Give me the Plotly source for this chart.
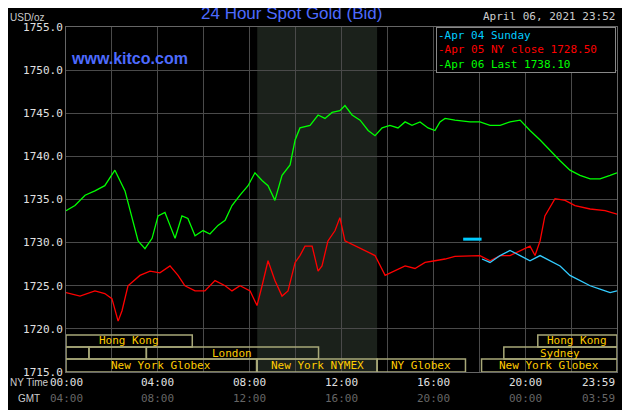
import plotly.graph_objects as go

g_hours = [0, 0.39, 0.83, 1.26, 1.69, 2.13, 2.57, 2.87, 3.14, 3.44,
           3.75, 4.01, 4.31, 4.53, 4.75, 5.05, 5.31, 5.62, 5.97, 6.27,
           6.62, 6.93, 7.23, 7.58, 7.93, 8.23, 8.54, 8.80, 9.10, 9.41,
           9.76, 9.98, 10.19, 10.63, 10.98, 11.28, 11.59, 11.93, 12.15, 12.46,
           12.81, 13.16, 13.46, 13.77, 14.11, 14.46, 14.77, 15.07, 15.42, 15.77,
           16.07, 16.29, 16.51, 16.94, 17.60, 18.03, 18.47, 18.91, 19.34, 19.78,
           20.21, 20.65, 21.08, 21.52, 21.95, 22.39, 22.83, 23.26, 23.70, 24]
g_price = [1733.7, 1734.3, 1735.5, 1736.0, 1736.6, 1738.4, 1736.0, 1733.1, 1730.2, 1729.3,
           1730.5, 1733.1, 1733.5, 1732.0, 1730.5, 1733.1, 1732.8, 1730.8, 1731.4, 1731.0,
           1732.0, 1732.6, 1734.3, 1735.5, 1736.6, 1738.1, 1737.2, 1736.6, 1734.9, 1737.8,
           1739.0, 1741.9, 1743.3, 1743.6, 1744.8, 1744.4, 1745.1, 1745.3, 1745.9, 1744.8,
           1744.2, 1743.0, 1742.4, 1743.3, 1743.6, 1743.3, 1744.0, 1743.6, 1744.0, 1743.3,
           1743.0, 1744.0, 1744.4, 1744.2, 1744.0, 1744.0, 1743.6, 1743.6, 1744.0, 1744.2,
           1743.0, 1741.9, 1740.7, 1739.5, 1738.4, 1737.8, 1737.4, 1737.4, 1737.8, 1738.1]

r_hours = [0, 0.61, 1.26, 1.69, 2.00, 2.27, 2.44, 2.70, 3.22, 3.66,
           4.09, 4.53, 4.88, 5.18, 5.62, 6.05, 6.49, 6.93, 7.23, 7.58,
           8.02, 8.32, 8.54, 8.80, 9.10, 9.41, 9.67, 9.98, 10.19, 10.41,
           10.72, 10.98, 11.15, 11.41, 11.72, 11.93, 12.15, 12.59, 13.02, 13.46,
           13.90, 14.33, 14.77, 15.20, 15.64, 16.07, 16.51, 16.94, 17.60, 18.03,
           18.47, 18.91, 19.34, 19.78, 20.21, 20.43, 20.65, 20.86, 21.30, 21.74,
           22.17, 22.83, 23.48, 24]
r_price = [1724.2, 1723.8, 1724.4, 1724.1, 1723.5, 1720.9, 1722.1, 1725.0, 1726.2, 1726.7,
           1726.5, 1727.3, 1726.2, 1725.0, 1724.4, 1724.4, 1725.6, 1725.0, 1724.4, 1725.0,
           1724.4, 1722.7, 1725.0, 1727.9, 1725.6, 1723.8, 1724.4, 1727.7, 1728.5, 1729.6,
           1729.6, 1726.7, 1727.3, 1730.2, 1731.4, 1732.9, 1730.2, 1729.6, 1729.1, 1728.5,
           1726.2, 1726.7, 1727.3, 1727.0, 1727.7, 1727.9, 1728.1, 1728.4, 1728.5, 1728.5,
           1727.9, 1728.5, 1728.5, 1729.1, 1729.6, 1728.5, 1730.2, 1733.1, 1735.1, 1734.9,
           1734.3, 1733.9, 1733.7, 1733.3]

b_hours = [18.12, 18.47, 18.91, 19.34, 19.78, 20.21, 20.65, 21.08, 21.52, 21.95,
           22.39, 22.83, 23.26, 23.70, 24]
b_price = [1728.1, 1727.7, 1728.5, 1729.1, 1728.5, 1727.9, 1728.5, 1727.9, 1727.3, 1726.2,
           1725.6, 1725.0, 1724.6, 1724.2, 1724.4]
stub_hours = [17.3, 18.1]
stub_price = [1730.4, 1730.4]

assert len(g_hours) == len(g_price) and len(r_hours) == len(r_price) and len(b_hours) == len(b_price)

y_ticks = [1715, 1720, 1725, 1730, 1735, 1740, 1745, 1750, 1755]
x_ticks = [0, 4, 8, 12, 16, 20, 24]
ny_labels = ["00:00", "04:00", "08:00", "12:00", "16:00", "20:00", "23:59"]
gmt_labels = ["04:00", "08:00", "12:00", "16:00", "20:00", "00:00", "03:59"]

sessions = [
    (0, 5.5, 0, "Hong Kong"), (20.55, 24, 0, "Hong Kong"),
    (0, 1, 1, ""), (1, 3.5, 1, ""), (3.5, 11, 1, "London"), (19.07, 24, 1, "Sydney"),
    (0, 8.3, 2, "New York Globex"), (8.33, 13.55, 2, "New York NYMEX"),
    (13.55, 17.4, 2, "NY Globex"), (18.1, 24, 2, "New York Globex"),
]
rows = [(1717.9, 1719.3), (1716.5, 1717.9), (1715.0, 1716.5)]

MONO = "DejaVu Sans Mono"
fig = go.Figure()
fig.add_trace(go.Scatter(x=r_hours, y=r_price, mode="lines", line=dict(color="#ff0000", width=1.3)))
fig.add_trace(go.Scatter(x=b_hours, y=b_price, mode="lines", line=dict(color="#33ccff", width=1.3)))
fig.add_trace(go.Scatter(x=stub_hours, y=stub_price, mode="lines", line=dict(color="#00ccff", width=3)))
fig.add_trace(go.Scatter(x=g_hours, y=g_price, mode="lines", line=dict(color="#00ff00", width=1.3)))

shapes = [dict(type="rect", xref="x", yref="y", x0=8.33, x1=13.55, y0=1715, y1=1755,
               fillcolor="#1b211b", line_width=0, layer="below")]
annotations = []
for s0, s1, row, lab in sessions:
    y0, y1 = rows[row]
    shapes.append(dict(type="rect", xref="x", yref="y", x0=s0, x1=s1, y0=y0, y1=y1,
                       fillcolor="rgba(0,0,0,0)", line=dict(color="#a8a878", width=1.5)))
    if lab:
        annotations.append(dict(x=(s0 + s1) / 2, y=(y0 + y1) / 2, xref="x", yref="y", text=lab,
                                showarrow=False, font=dict(family=MONO, size=11, color="#ffcc00")))

for xv, ny, gm in zip(x_ticks, ny_labels, gmt_labels):
    xa = "right" if xv == 24 else "center"
    annotations.append(dict(x=xv, y=0, xref="x", yref="paper", yshift=-2, text=ny, showarrow=False,
                            yanchor="top", xanchor=xa, font=dict(family=MONO, size=11, color="#e0e0e0")))
    annotations.append(dict(x=xv, y=0, xref="x", yref="paper", yshift=-18, text=gm, showarrow=False,
                            yanchor="top", xanchor=xa, font=dict(family=MONO, size=11, color="#666666")))

annotations += [
    dict(x=0, y=0, xref="paper", yref="paper", xshift=-58, yshift=-3, text="NY Time", showarrow=False,
         xanchor="left", yanchor="top", font=dict(family="Liberation Sans", size=10, color="#cccccc")),
    dict(x=0, y=0, xref="paper", yref="paper", xshift=-50, yshift=-19, text="GMT", showarrow=False,
         xanchor="left", yanchor="top", font=dict(family="Liberation Sans", size=10, color="#cccccc")),
    dict(x=0, y=1.0, xref="paper", yref="paper", xshift=-58, yshift=2, text="USD/oz", showarrow=False,
         xanchor="left", yanchor="bottom", font=dict(family="Liberation Sans", size=10, color="#cccccc")),
    dict(x=0.41, y=1.0, xref="paper", yref="paper", yshift=2, text="24 Hour Spot Gold (Bid)",
         showarrow=False, yanchor="bottom", font=dict(family="Liberation Sans", size=17, color="#4d6bff")),
    dict(x=0.005, y=0.94, xref="paper", yref="paper", text="<b>www.kitco.com</b>", showarrow=False,
         xanchor="left", font=dict(family="Liberation Sans", size=16, color="#4d6bff")),
    dict(x=1.0, y=1.0, xref="paper", yref="paper", yshift=2, text="April 06, 2021 23:52",
         showarrow=False, xanchor="right", yanchor="bottom", font=dict(family=MONO, size=11, color="#cccccc")),
    dict(x=0.671, y=1.0, xref="paper", yref="paper", xanchor="left", yanchor="top", align="left",
         text="<span style='color:#00ccff'>-Apr 04 Sunday</span><br>"
              "<span style='color:#ff0000'>-Apr 05 NY close 1728.50</span><br>"
              "<span style='color:#00ff00'>-Apr 06 Last 1738.10</span>",
         showarrow=False, bgcolor="#000000", bordercolor="#888888", borderwidth=1, borderpad=1,
         width=176, font=dict(family=MONO, size=11)),
]

fig.update_layout(
    width=622, height=402, margin=dict(l=58, r=13, t=19, b=38),
    paper_bgcolor="#000000", plot_bgcolor="#000000", showlegend=False,
    shapes=shapes, annotations=annotations,
    xaxis=dict(range=[0, 24], tickvals=list(range(0, 25, 2)), showticklabels=False,
               gridcolor="#4a4a4a", zeroline=False, showline=True, linecolor="#666666", mirror=True),
    yaxis=dict(range=[1715, 1755], tickvals=y_ticks, ticktext=[f"{v:.1f}" for v in y_ticks],
               gridcolor="#4a4a4a", zeroline=False, showline=True, linecolor="#666666", mirror=True,
               tickfont=dict(family=MONO, size=11, color="#e0e0e0")),
)
fig.write_html("out.html")
